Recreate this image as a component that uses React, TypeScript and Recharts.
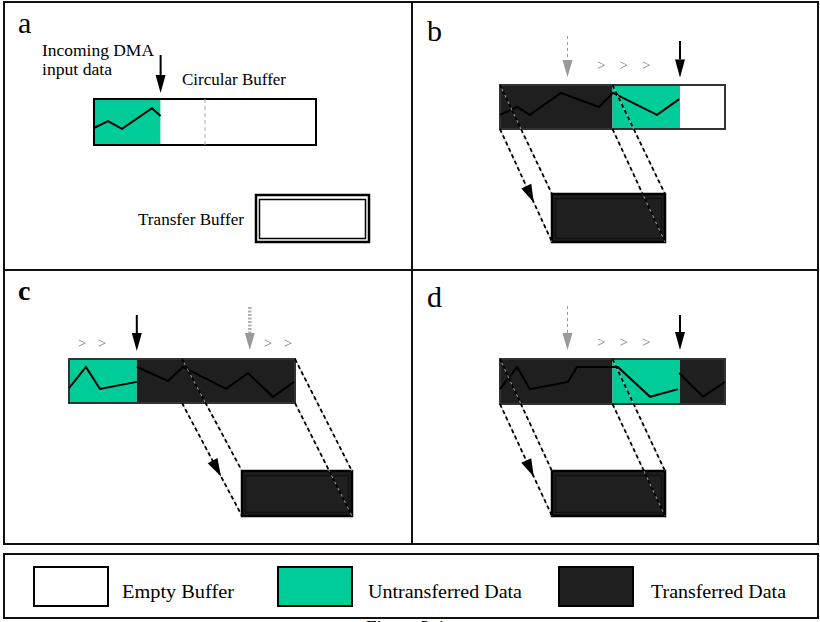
import React from "react";
import {
  ComposedChart,
  XAxis,
  YAxis,
  Line,
  ReferenceArea,
  ReferenceLine,
  ReferenceDot,
} from "recharts";

const GREEN = "#00cc99";
const DARK = "#1f1f1f";
const FONT = "'Liberation Serif', 'Times New Roman', serif";
const FILL: Record<string, string> = { E: "#ffffff", U: GREEN, T: DARK };

// 10-slot circular buffer: E empty, U untransferred, T transferred
const slotsA = ["U", "U", "U", "E", "E", "E", "E", "E", "E", "E"];
const slotsB = ["T", "T", "T", "T", "T", "U", "U", "U", "E", "E"];
const slotsC = ["U", "U", "U", "T", "T", "T", "T", "T", "T", "T"];
const slotsD = ["T", "T", "T", "T", "T", "U", "U", "U", "T", "T"];

// incoming signal traces (x in slots, y as share of buffer height)
const sigAx = [0, 0.63, 1.26, 2.61, 3.0];
const sigAy = [0.37, 0.52, 0.35, 0.8, 0.63];
const sigBx = [0, 0.76, 1.33, 2.71, 4.4, 5.02, 6.98, 7.96];
const sigBy = [0.32, 0.5, 0.32, 0.82, 0.5, 0.82, 0.32, 0.68];
const sigC1x = [0, 0.75, 1.37, 3.0];
const sigC1y = [0.34, 0.82, 0.32, 0.48];
const sigC2x = [3.0, 4.38, 5.04, 6.95, 7.92, 9.03, 9.96];
const sigC2y = [0.82, 0.5, 0.82, 0.32, 0.68, 0.14, 0.48];
const sigD1x = [0, 0.76, 1.33, 3.02, 3.42, 5.24, 6.67, 7.91];
const sigD1y = [0.33, 0.82, 0.33, 0.49, 0.82, 0.82, 0.16, 0.33];
const sigD2x = [7.96, 9.02, 10];
const sigD2y = [0.69, 0.16, 0.49];

// DMA write pointer and transfer read pointer (slot index)
const writePtr = [3, 8, 3, 8];
const readPtr = [null, 3, 8, 3];
// slot range copied into the transfer buffer
const windows: (number[] | null)[] = [null, [0, 5], [5, 10], [0, 5]];
// "> > >" progress marks
const marksB = [4.5, 5.5, 6.5];
const marksC = [0.58, 1.46, 8.8, 9.69];
const marksD = [4.5, 5.5, 6.5];

const panelLetters = ["a", "b", "c", "d"];

const legendLabels = ["Empty Buffer", "Untransferred Data", "Transferred Data"];
const legendStates = ["E", "U", "T"];

const zip = (xs: number[], ys: number[]) => xs.map((x, i) => ({ x, y: ys[i] }));

function toRuns(slots: string[]) {
  const runs: { start: number; end: number; s: string }[] = [];
  slots.forEach((s, i) => {
    const last = runs[runs.length - 1];
    if (last && last.s === s) last.end = i + 1;
    else runs.push({ start: i, end: i + 1, s });
  });
  return runs;
}

type ArrowStyle = {
  color: string;
  width: number;
  dash?: string;
  headW: number;
  headL: number;
  headColor?: string;
  at?: number;
  under?: string;
};

const arrowShape = (s: ArrowStyle) => (p: any) => {
  const { x1, y1, x2, y2 } = p;
  const dx = x2 - x1;
  const dy = y2 - y1;
  const len = Math.hypot(dx, dy) || 1;
  const ux = dx / len;
  const uy = dy / len;
  const at = s.at ?? 1;
  const tx = x1 + dx * at;
  const ty = y1 + dy * at;
  const bx = tx - ux * s.headL;
  const by = ty - uy * s.headL;
  const nx = (-uy * s.headW) / 2;
  const ny = (ux * s.headW) / 2;
  const ex = at === 1 ? bx : x2;
  const ey = at === 1 ? by : y2;
  return (
    <g>
      {s.under && <line x1={x1} y1={y1} x2={x2} y2={y2} stroke={s.under} strokeWidth={0.8} />}
      <line x1={x1} y1={y1} x2={ex} y2={ey} stroke={s.color} strokeWidth={s.width} strokeDasharray={s.dash} />
      {s.headL > 0 && (
        <polygon
          points={`${tx},${ty} ${bx + nx},${by + ny} ${bx - nx},${by - ny}`}
          fill={s.headColor ?? s.color}
        />
      )}
    </g>
  );
};

const blackArrow: ArrowStyle = { color: "#000", width: 2, headW: 10, headL: 18 };
const greyArrow: ArrowStyle = { color: "#9a9a9a", width: 1, dash: "3 3", headW: 10, headL: 17 };
const greyDotted: ArrowStyle = { color: "#b0b0b0", width: 3.5, dash: "2 1.5", headW: 10, headL: 17, headColor: "#999" };
const projLine: ArrowStyle = { color: "#000", width: 1.8, dash: "4 3", headW: 0, headL: 0, under: "#bbb" };
const projArrow: ArrowStyle = { ...projLine, at: 0.65, headW: 11, headL: 18 };

type TextStyle = { size: number; bold?: boolean; fill?: string; anchor?: string; width?: number; central?: boolean };

const textDot = (key: string, x: number, y: number, label: string, st: TextStyle) => (
  <ReferenceDot
    key={key}
    x={x}
    y={y}
    r={1}
    ifOverflow="visible"
    shape={(p: any) => (
      <text
        x={p.cx}
        y={p.cy}
        fontFamily={FONT}
        fontSize={st.size}
        fontWeight={st.bold ? 700 : 400}
        fill={st.fill ?? "#000"}
        textAnchor={(st.anchor as any) ?? "start"}
        dominantBaseline={st.central ? "central" : "alphabetic"}
        textLength={st.width}
        lengthAdjust={st.width ? "spacingAndGlyphs" : undefined}
      >
        {label}
      </text>
    )}
  />
);

// page layout in pixels
const panels = [
  {
    box: { left: 5, top: 3, width: 406, height: 266 },
    buf: { left: 94, top: 99, slot: 22.2, h: 46 },
    slots: slotsA,
    signal: [zip(sigAx, sigAy)],
    write: { top: 55, tip: 93 },
    read: null as any,
    readStyle: greyArrow,
    marks: [] as number[],
    marksY: 0,
    transfer: { left: 256, top: 195, right: 369, bottom: 242, fill: "#fff" },
    letter: { x: 18, y: 33, size: 30, bold: false },
    halfMark: 5,
    border: "#000",
    texts: [
      { t: "Incoming DMA", x: 42, y: 56, w: 112 },
      { t: "input data", x: 42, y: 75, w: 70 },
      { t: "Circular Buffer", x: 182, y: 85, w: 104 },
      { t: "Transfer Buffer", x: 138, y: 225, w: 106 },
    ],
  },
  {
    box: { left: 413, top: 3, width: 404, height: 266 },
    buf: { left: 500, top: 85, slot: 22.5, h: 44 },
    slots: slotsB,
    signal: [zip(sigBx, sigBy)],
    write: { top: 41, tip: 77.5 },
    read: { top: 36, tip: 77 },
    readStyle: greyArrow,
    marks: marksB,
    marksY: 65,
    transfer: { left: 552, top: 194, right: 665, bottom: 242, fill: DARK },
    letter: { x: 427, y: 41, size: 30, bold: false },
    halfMark: null,
    border: "#333",
    texts: [],
  },
  {
    box: { left: 5, top: 271, width: 406, height: 272 },
    buf: { left: 69, top: 359, slot: 22.6, h: 44 },
    slots: slotsC,
    signal: [zip(sigC1x, sigC1y), zip(sigC2x, sigC2y)],
    write: { top: 315, tip: 351 },
    read: { top: 307, tip: 350 },
    readStyle: greyDotted,
    marks: marksC,
    marksY: 343,
    transfer: { left: 242, top: 471, right: 352, bottom: 516, fill: DARK },
    letter: { x: 18, y: 300, size: 28, bold: true },
    halfMark: null,
    border: "#333",
    texts: [],
  },
  {
    box: { left: 413, top: 271, width: 404, height: 272 },
    buf: { left: 500, top: 359, slot: 22.5, h: 45 },
    slots: slotsD,
    signal: [zip(sigD1x, sigD1y), zip(sigD2x, sigD2y)],
    write: { top: 315, tip: 350 },
    read: { top: 306, tip: 350 },
    readStyle: greyArrow,
    marks: marksD,
    marksY: 342,
    transfer: { left: 552, top: 471, right: 665, bottom: 516, fill: DARK },
    letter: { x: 427, y: 307, size: 30, bold: false },
    halfMark: null,
    border: "#333",
    texts: [],
  },
];

const zero = { top: 0, right: 0, bottom: 0, left: 0 };

function Panel({ idx }: { idx: number }) {
  const cfg = panels[idx];
  const { box, buf } = cfg;
  const ux = (px: number) => (px - buf.left) / buf.slot;
  const uy = (py: number) => (buf.top + buf.h - py) / buf.h;
  const runs = toRuns(cfg.slots);
  const tb = cfg.transfer;
  const win = windows[idx];
  const w = writePtr[idx];
  const r = readPtr[idx];

  return (
    <div style={{ position: "absolute", left: box.left, top: box.top }}>
      <ComposedChart width={box.width} height={box.height} margin={zero}>
        <XAxis type="number" dataKey="x" domain={[ux(box.left), ux(box.left + box.width)]} allowDataOverflow hide />
        <YAxis type="number" domain={[uy(box.top + box.height), uy(box.top)]} allowDataOverflow hide />
        {runs.map((run, i) => (
          <ReferenceArea
            key={"run" + i}
            x1={run.start}
            x2={run.end}
            y1={0}
            y2={1}
            fill={FILL[run.s]}
            fillOpacity={1}
            stroke="none"
            ifOverflow="visible"
          />
        ))}
        <ReferenceArea
          x1={0}
          x2={cfg.slots.length}
          y1={0}
          y2={1}
          fill="none"
          stroke={cfg.border}
          strokeWidth={2}
          ifOverflow="visible"
        />
        <ReferenceArea
          x1={ux(tb.left)}
          x2={ux(tb.right)}
          y1={uy(tb.bottom)}
          y2={uy(tb.top)}
          ifOverflow="visible"
          shape={(p: any) => (
            <g>
              <rect x={p.x} y={p.y} width={p.width} height={p.height} fill={tb.fill} stroke="#000" strokeWidth={2.5} />
              <rect
                x={p.x + 3.5}
                y={p.y + 4.5}
                width={p.width - 7}
                height={p.height - 8}
                fill="none"
                stroke={tb.fill === DARK ? "#111" : "#000"}
                strokeWidth={1.5}
              />
            </g>
          )}
        />
        {cfg.halfMark != null && (
          <ReferenceLine
            segment={[
              { x: cfg.halfMark, y: 0 },
              { x: cfg.halfMark, y: 1 },
            ]}
            stroke="#aaa"
            strokeWidth={1}
            strokeDasharray="4 3"
            ifOverflow="visible"
          />
        )}
        {cfg.signal.map((seg, i) => (
          <Line
            key={"sig" + i}
            data={seg}
            dataKey="y"
            type="linear"
            stroke="#000"
            strokeWidth={2}
            dot={false}
            activeDot={false}
            isAnimationActive={false}
          />
        ))}
        {win && (
          <ReferenceLine
            segment={[
              { x: win[0], y: 1 },
              { x: ux(tb.left), y: uy(tb.top) },
            ]}
            shape={arrowShape(projLine)}
            ifOverflow="visible"
          />
        )}
        {win && (
          <ReferenceLine
            segment={[
              { x: win[0], y: 0 },
              { x: ux(tb.left), y: uy(tb.bottom) },
            ]}
            shape={arrowShape(projArrow)}
            ifOverflow="visible"
          />
        )}
        {win && (
          <ReferenceLine
            segment={[
              { x: win[1], y: 1 },
              { x: ux(tb.right), y: uy(tb.top) },
            ]}
            shape={arrowShape(projLine)}
            ifOverflow="visible"
          />
        )}
        {win && (
          <ReferenceLine
            segment={[
              { x: win[1], y: 0 },
              { x: ux(tb.right), y: uy(tb.bottom) },
            ]}
            shape={arrowShape(projLine)}
            ifOverflow="visible"
          />
        )}
        {r != null && cfg.read && (
          <ReferenceLine
            segment={[
              { x: r, y: uy(cfg.read.top) },
              { x: r, y: uy(cfg.read.tip) },
            ]}
            shape={arrowShape(cfg.readStyle)}
            ifOverflow="visible"
          />
        )}
        <ReferenceLine
          segment={[
            { x: w, y: uy(cfg.write.top) },
            { x: w, y: uy(cfg.write.tip) },
          ]}
          shape={arrowShape(blackArrow)}
          ifOverflow="visible"
        />
        {cfg.marks.map((m, i) =>
          textDot("mk" + i, m, uy(cfg.marksY), ">", { size: 15, fill: "#7a7a7a", anchor: "middle", central: true })
        )}
        {textDot("letter", ux(cfg.letter.x), uy(cfg.letter.y), panelLetters[idx], {
          size: cfg.letter.size,
          bold: cfg.letter.bold,
        })}
        {cfg.texts.map((t, i) => textDot("t" + i, ux(t.x), uy(t.y), t.t, { size: 16, width: t.w }))}
      </ComposedChart>
    </div>
  );
}

const swatchLeft = [34, 278, 559];
const textLeft = [122, 368, 651];
const textWidth = [112, 154, 135];

function LegendBox() {
  return (
    <div style={{ position: "absolute", left: 0, top: 545 }}>
      <ComposedChart width={820} height={77} margin={zero}>
        <XAxis type="number" dataKey="x" domain={[0, 820]} allowDataOverflow hide />
        <YAxis type="number" domain={[545, 622]} reversed allowDataOverflow hide />
        <ReferenceArea
          x1={4}
          x2={818}
          y1={554}
          y2={618}
          fill="#fff"
          fillOpacity={1}
          stroke="#111"
          strokeWidth={2}
          ifOverflow="visible"
        />
        {legendLabels.map((l, i) => (
          <ReferenceArea
            key={"sw" + i}
            x1={swatchLeft[i]}
            x2={swatchLeft[i] + 74}
            y1={567}
            y2={606}
            fill={FILL[legendStates[i]]}
            fillOpacity={1}
            stroke="#000"
            strokeWidth={2}
            ifOverflow="visible"
          />
        ))}
        {legendLabels.map((l, i) => textDot("lg" + i, textLeft[i], 598, l, { size: 19, width: textWidth[i] }))}
        {textDot("cap", 366, 634, "Figure 3.4", { size: 19 })}
      </ComposedChart>
    </div>
  );
}

export default function App() {
  return (
    <div style={{ position: "absolute", left: 0, top: 0, width: 820, height: 622, background: "#fff", overflow: "hidden" }}>
      <div
        style={{
          position: "absolute",
          left: 3,
          top: 1,
          width: 816,
          height: 544,
          border: "2px solid #111",
          boxSizing: "border-box",
        }}
      />
      <div style={{ position: "absolute", left: 411, top: 1, width: 2, height: 544, background: "#111" }} />
      <div style={{ position: "absolute", left: 3, top: 269, width: 816, height: 2, background: "#111" }} />
      {panels.map((_, i) => (
        <Panel key={i} idx={i} />
      ))}
      <LegendBox />
    </div>
  );
}
